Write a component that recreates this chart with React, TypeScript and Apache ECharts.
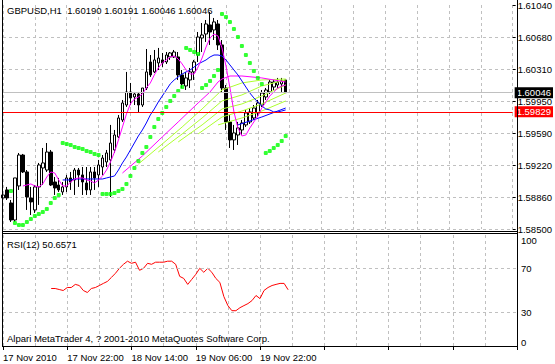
import React, { useEffect, useRef } from 'react';
import * as echarts from 'echarts';

const FONT = '"Liberation Sans", Arial, sans-serif';
const FONT_SIZE = 9.5;

const symbolName = 'GBPUSD,H1';
const rsiName = 'RSI(12)';
const copyright = 'Alpari MetaTrader 4, ? 2001-2010 MetaQuotes Software Corp.';

const priceTickLabels = ['1.58500', '1.58860', '1.59220', '1.59590', '1.59950', '1.60310', '1.60680', '1.61040'];
const priceMin = 1.585;
const priceMax = 1.6104;
const rsiTickLabels = [0, 30, 70, 100];
const rsiLevels = [30, 70];
const timeLabels = ['17 Nov 2010', '17 Nov 22:00', '18 Nov 14:00', '19 Nov 06:00', '19 Nov 22:00'];
const totalSlots = 129;

const bidLevel = 1.60046;
const alertLevel = 1.59829;

const open = [
  1.58852, 1.58943, 1.58795, 1.58602, 1.58988, 1.59339, 1.59147, 1.58852, 1.58716, 1.58977,
  1.59192, 1.59169, 1.59373, 1.59033, 1.58999, 1.5892, 1.58977, 1.59079, 1.59056, 1.59169,
  1.59113, 1.59022, 1.58943, 1.59147, 1.59113, 1.59203, 1.5926, 1.59283, 1.59396, 1.59544,
  1.59736, 1.59906, 1.60054, 1.59997, 1.60031, 1.59906, 1.60099, 1.60394, 1.60281, 1.60383,
  1.60417, 1.60394, 1.60451, 1.60451, 1.60451, 1.60247, 1.60122, 1.6019, 1.60281, 1.60473,
  1.60666, 1.60711, 1.60814, 1.60757, 1.60825, 1.60587, 1.60099, 1.59714, 1.5951, 1.59566,
  1.59623, 1.5968, 1.59714, 1.59759, 1.59816, 1.59906, 1.59997, 1.60054, 1.6011, 1.60133,
  1.60145, 1.6019,
];
const high = [
  1.58965, 1.58977, 1.58829, 1.59079, 1.59362, 1.59351, 1.59169, 1.58977, 1.58999, 1.59249,
  1.59419, 1.59475, 1.59396, 1.5909, 1.59079, 1.59033, 1.59113, 1.59147, 1.59192, 1.59192,
  1.59203, 1.59203, 1.59203, 1.59203, 1.59283, 1.59339, 1.59396, 1.5968, 1.59623, 1.59793,
  1.59963, 1.60281, 1.60156, 1.60054, 1.60054, 1.60099, 1.60541, 1.60473, 1.6053, 1.60553,
  1.60496, 1.60507, 1.60507, 1.6053, 1.60507, 1.60303, 1.60281, 1.60326, 1.60417, 1.60734,
  1.60836, 1.6087, 1.60961, 1.60893, 1.6087, 1.60643, 1.60133, 1.59793, 1.5968, 1.59714,
  1.59736, 1.5985, 1.59872, 1.59906, 1.59963, 1.60076, 1.60099, 1.6019, 1.6019, 1.60213,
  1.60213, 1.60191,
];
const low = [
  1.5875, 1.58829, 1.5858, 1.5858, 1.58943, 1.59135, 1.58716, 1.58659, 1.58682, 1.58773,
  1.58999, 1.59147, 1.58988, 1.58886, 1.5892, 1.58886, 1.5892, 1.58943, 1.58886, 1.58977,
  1.58886, 1.58886, 1.58886, 1.58943, 1.58977, 1.59113, 1.59203, 1.58863, 1.59362, 1.59532,
  1.59714, 1.59884, 1.59906, 1.59906, 1.59827, 1.59884, 1.60076, 1.60224, 1.60269, 1.60303,
  1.60337, 1.60371, 1.60417, 1.60439, 1.6019, 1.60099, 1.60076, 1.60099, 1.6019, 1.60394,
  1.60507, 1.60621, 1.60587, 1.60643, 1.6053, 1.60054, 1.59623, 1.59419, 1.59396, 1.59453,
  1.59566, 1.59657, 1.59691, 1.59736, 1.5977, 1.59884, 1.59963, 1.60031, 1.60076, 1.60099,
  1.60054, 1.60046,
];
const close = [
  1.58886, 1.58852, 1.58602, 1.59079, 1.59339, 1.59147, 1.58863, 1.58807, 1.58977, 1.59226,
  1.59249, 1.59373, 1.58999, 1.58965, 1.58943, 1.58977, 1.59079, 1.59033, 1.59169, 1.59113,
  1.59033, 1.58943, 1.59147, 1.59079, 1.59226, 1.59305, 1.59362, 1.59475, 1.59566, 1.59759,
  1.59929, 1.60054, 1.59986, 1.60031, 1.59906, 1.60099, 1.60281, 1.60247, 1.60417, 1.60439,
  1.60383, 1.60473, 1.60496, 1.60507, 1.60247, 1.60145, 1.60213, 1.60281, 1.60394, 1.60677,
  1.607, 1.60825, 1.60734, 1.60848, 1.60587, 1.60099, 1.59714, 1.5951, 1.59589, 1.59646,
  1.59702, 1.59816, 1.59827, 1.59872, 1.59929, 1.60042, 1.60076, 1.60167, 1.60167, 1.60167,
  1.60179, 1.60046,
];

// fast moving average (magenta), starts at bar 5
const maFastStart = 5;
const maFast = [
  1.58988, 1.58999, 1.59011, 1.58988, 1.58977, 1.59011, 1.5909, 1.59147, 1.59135, 1.59056,
  1.58988, 1.58988, 1.59033, 1.59067, 1.59079, 1.59079, 1.59056, 1.59045, 1.59022, 1.59056,
  1.59101, 1.59169, 1.5926, 1.59373, 1.5951, 1.59657, 1.59804, 1.59918, 1.59974, 1.59997,
  1.60031, 1.60099, 1.60156, 1.60247, 1.60326, 1.60383, 1.60417, 1.60451, 1.60462, 1.60428,
  1.60371, 1.60303, 1.60258, 1.60258, 1.60337, 1.60439, 1.60564, 1.60666, 1.60711, 1.60689,
  1.60553, 1.60349, 1.60099, 1.59827, 1.59646, 1.59555, 1.59566, 1.59646, 1.59714, 1.59782,
  1.59872, 1.5994, 1.60008, 1.60054, 1.60099, 1.60122, 1.60133,
];
// medium moving average (blue), starts at bar 15
const maMidStart = 15;
const maMid = [
  1.59056, 1.59056, 1.59056, 1.59067, 1.59067, 1.59067, 1.59067, 1.59067, 1.59067, 1.59067,
  1.59067, 1.59079, 1.5909, 1.59101, 1.59169, 1.59249, 1.59317, 1.59396, 1.59475, 1.59555,
  1.59623, 1.59702, 1.59793, 1.59861, 1.5994, 1.60008, 1.60076, 1.60145, 1.6019, 1.60224,
  1.60258, 1.60281, 1.60303, 1.60337, 1.60371, 1.60394, 1.60417, 1.60451, 1.60473, 1.60473,
  1.60462, 1.60417, 1.6036, 1.60303, 1.60247, 1.60179, 1.6011, 1.60042, 1.59986, 1.5994,
  1.59895, 1.59861, 1.5985, 1.59827, 1.59827, 1.59838, 1.5985,
];
// slow ribbon lines: [bar, price]
const maSlow = [[30, 1.59135], [35, 1.59328], [40, 1.59544], [44, 1.59714], [49, 1.59929], [52, 1.60054], [54, 1.60167], [55, 1.60201], [57, 1.60235], [60, 1.60235], [65, 1.60213], [71, 1.60167]];
const ribbon35 = [[34, 1.59237], [40, 1.59464], [45, 1.59657], [50, 1.59861], [55, 1.60076], [60, 1.60156], [65, 1.6019], [71, 1.60201]];
const ribbon40 = [[39, 1.59373], [45, 1.59578], [50, 1.59759], [55, 1.59952], [60, 1.6002], [65, 1.60122], [71, 1.6019]];
const ribbon45 = [[44, 1.59487], [50, 1.5968], [55, 1.59861], [60, 1.59918], [65, 1.60008], [71, 1.60133]];
const ribbon50 = [[49, 1.59578], [55, 1.5977], [60, 1.59838], [65, 1.59918], [71, 1.60042]];
const ribbon55 = [[54, 1.5968], [60, 1.59759], [65, 1.59838], [71, 1.59952]];
const ma60 = [[59, 1.5968], [65, 1.5977], [71, 1.59872]];

const sar = [
  null, null, 1.58931, 1.58568, 1.58546, 1.58546, 1.5858, 1.58614, 1.58648, 1.5867,
  1.58693, 1.58727, 1.58795, 1.58852, 1.58886, 1.59475, 1.59464, 1.59453, 1.5943, 1.59419,
  1.59407, 1.59385, 1.59373, 1.59351, 1.59339, 1.58897, 1.58897, 1.58897, 1.58909, 1.58931,
  1.58954, 1.59011, 1.59101, 1.59192, 1.59271, 1.59362, 1.5943, 1.59544, 1.59657, 1.59748,
  1.59816, 1.59884, 1.59952, 1.60008, 1.60065, 1.6011, 1.60553, 1.6053, 1.60507, 1.60485,
  1.60099, 1.60133, 1.60179, 1.60235, 1.60303, 1.60938, 1.60904, 1.60848, 1.60768, 1.60677,
  1.60575, 1.60473, 1.60383, 1.60292, 1.60213, 1.60145, 1.59362, 1.59385, 1.59419, 1.59453,
  1.59498, 1.59555,
];

const rsiStart = 12;
const rsi = [
  51.8, 51.8, 50.9, 50.0, 52.7, 52.7, 55.5, 54.5, 50.0, 48.2,
  51.8, 52.7, 54.5, 56.4, 58.2, 61.8, 65.5, 70.0, 73.6, 76.4,
  74.5, 75.5, 68.2, 70.0, 74.5, 73.6, 75.5, 75.5, 75.5, 76.4,
  76.4, 73.6, 62.7, 60.9, 55.5, 60.0, 64.5, 70.0, 66.4, 70.0,
  66.4, 60.9, 57.3, 44.5, 36.4, 31.8, 31.8, 34.5, 36.4, 38.2,
  40.9, 45.5, 42.7, 50.0, 52.7, 54.5, 55.5, 56.4, 56.4, 50.6571,
];

const categories: string[] = [];
for (let i = 0; i < totalSlots; i++) {
  const h = 6 + i;
  const day = 17 + Math.floor(h / 24);
  const hh = h % 24;
  categories.push(`${day} Nov ${hh < 10 ? '0' : ''}${hh}:00`);
}

const pad = (start: number, arr: (number | null)[]) => [...Array(start).fill(null), ...arr];

export default function App() {
  const ref = useRef<HTMLDivElement>(null);
  useEffect(() => {
    if (!ref.current) return;
    const chart = echarts.init(ref.current, null, { renderer: 'svg' });
    const last = close.length - 1;
    const titleText = `${symbolName}  ${open[last].toFixed(5)} ${high[last].toFixed(5)} ${low[last].toFixed(5)} ${close[last].toFixed(5)}`;
    const rsiText = `${rsiName} ${rsi[rsi.length - 1].toFixed(4)}`;
    const priceInterval = (priceMax - priceMin) / (priceTickLabels.length - 1);
    const txt = { fontFamily: FONT, fontSize: FONT_SIZE, fontWeight: 'normal' as const, color: '#000' };
    const dashed = { color: '#c0c0c0', type: [3, 3] as any, width: 1 };
    const candles = open.map((o, i) => [o, close[i], low[i], high[i]]);
    const lineBase = { type: 'line', showSymbol: false, symbol: 'none', xAxisIndex: 0, yAxisIndex: 0, z: 3, silent: true };

    chart.setOption({
      animation: false,
      backgroundColor: '#ffffff',
      textStyle: { fontFamily: FONT },
      title: [
        { text: titleText, left: 7, top: 5, padding: 0, textStyle: txt },
        { text: rsiText, left: 7, top: 239, padding: 0, textStyle: txt },
        { text: copyright, left: 7, top: 333, padding: 0, textStyle: txt },
      ],
      grid: [
        { left: 3, top: 5, width: 514, height: 224 },
        { left: 3, top: 235, width: 514, height: 111 },
      ],
      xAxis: [
        {
          type: 'category', gridIndex: 0, data: categories, boundaryGap: false,
          axisLine: { show: false }, axisTick: { show: false }, axisLabel: { show: false },
          splitLine: { show: true, interval: 7, lineStyle: dashed },
        },
        {
          type: 'category', gridIndex: 1, data: categories, boundaryGap: false,
          axisLine: { show: false },
          axisTick: { show: true, interval: 15, length: 4, lineStyle: { color: '#000' } },
          axisLabel: {
            interval: 15, align: 'left', margin: 6, ...txt,
            formatter: (_v: string, idx: number) => (idx % 16 === 0 && timeLabels[idx / 16]) || '',
          },
          splitLine: { show: true, interval: 7, lineStyle: dashed },
        },
      ],
      yAxis: [
        {
          type: 'value', gridIndex: 0, position: 'right', min: priceMin, max: priceMax, interval: priceInterval,
          axisLine: { show: false },
          axisTick: { show: true, length: 3, lineStyle: { color: '#000' } },
          axisLabel: {
            margin: 5, ...txt,
            formatter: (v: number) => priceTickLabels[Math.round((v - priceMin) / priceInterval)] || '',
          },
          splitLine: { show: true, showMaxLine: false, lineStyle: dashed },
        },
        {
          type: 'value', gridIndex: 1, position: 'right', min: 0, max: 100, interval: 10,
          axisLine: { show: false }, axisTick: { show: false }, splitLine: { show: false },
          axisLabel: {
            margin: 4, ...txt,
            formatter: (v: number) => {
              if (!rsiTickLabels.includes(v)) return '';
              if (v === 100) return `{top|${v}}`;
              if (v === 0) return `{bot|${v}}`;
              return String(v);
            },
            rich: {
              top: { ...txt, padding: [10, 0, 0, 0] },
              bot: { ...txt, padding: [0, 0, 8, 0] },
            },
          },
        },
      ],
      series: [
        {
          type: 'candlestick', xAxisIndex: 0, yAxisIndex: 0, data: candles, barWidth: 3, z: 2,
          itemStyle: { color: '#ffffff', color0: '#000000', borderColor: '#000000', borderColor0: '#000000', borderWidth: 1 },
          markLine: {
            silent: true, symbol: ['none', 'none'], precision: 5,
            label: {
              show: true, position: 'end', distance: 2, color: '#ffffff', fontFamily: FONT, fontSize: FONT_SIZE,
              padding: [1, 2, 0, 2], lineHeight: 10,
              formatter: (p: any) => Number(p.value).toFixed(5),
            },
            data: [
              { yAxis: bidLevel, lineStyle: { color: '#c0c0c0', type: 'solid', width: 1 }, label: { backgroundColor: '#000000' } },
              { yAxis: alertLevel, lineStyle: { color: '#ff0000', type: 'solid', width: 1 }, label: { backgroundColor: '#ff0000' } },
            ],
          },
        },
        { ...lineBase, data: ribbon55, lineStyle: { color: '#adff2f', width: 1 } },
        { ...lineBase, data: ribbon50, lineStyle: { color: '#adff2f', width: 1 } },
        { ...lineBase, data: ribbon45, lineStyle: { color: '#adff2f', width: 1 } },
        { ...lineBase, data: ribbon40, lineStyle: { color: '#adff2f', width: 1 } },
        { ...lineBase, data: ribbon35, lineStyle: { color: '#adff2f', width: 1 } },
        { ...lineBase, data: ma60, lineStyle: { color: '#0000ff', width: 1 } },
        { ...lineBase, data: maSlow, lineStyle: { color: '#ff00ff', width: 1 } },
        { ...lineBase, data: pad(maMidStart, maMid), lineStyle: { color: '#0000ff', width: 1 } },
        { ...lineBase, data: pad(maFastStart, maFast), lineStyle: { color: '#ff00ff', width: 1 } },
        {
          type: 'scatter', xAxisIndex: 0, yAxisIndex: 0, data: sar.map((v, i) => (v == null ? null : [i, v])).filter(Boolean),
          symbol: 'roundRect', symbolSize: 4, itemStyle: { color: '#00ff00' }, z: 4, silent: true,
        },
        {
          type: 'line', xAxisIndex: 1, yAxisIndex: 1, data: pad(rsiStart, rsi), showSymbol: false, symbol: 'none',
          lineStyle: { color: '#ff0000', width: 1 }, z: 3, silent: true,
          markLine: {
            silent: true, symbol: ['none', 'none'], label: { show: false },
            lineStyle: dashed,
            data: rsiLevels.map((v) => ({ yAxis: v })),
          },
        },
      ],
      graphic: [
        { type: 'line', silent: true, z: 100, shape: { x1: 2.5, y1: 0, x2: 2.5, y2: 347 }, style: { stroke: '#000', lineWidth: 1 } },
        { type: 'line', silent: true, z: 100, shape: { x1: 517.5, y1: 0, x2: 517.5, y2: 347 }, style: { stroke: '#000', lineWidth: 1 } },
        { type: 'line', silent: true, z: 100, shape: { x1: 2, y1: 231.5, x2: 518, y2: 231.5 }, style: { stroke: '#000', lineWidth: 1 } },
        { type: 'line', silent: true, z: 100, shape: { x1: 2, y1: 233.5, x2: 518, y2: 233.5 }, style: { stroke: '#000', lineWidth: 1 } },
        { type: 'line', silent: true, z: 100, shape: { x1: 2, y1: 346.5, x2: 518, y2: 346.5 }, style: { stroke: '#000', lineWidth: 1 } },
      ],
    });
    return () => chart.dispose();
  }, []);
  return (
    <div
      ref={ref}
      style={{ position: 'fixed', left: 0, top: 0, width: 555, height: 364, background: '#ffffff' }}
    />
  );
}
